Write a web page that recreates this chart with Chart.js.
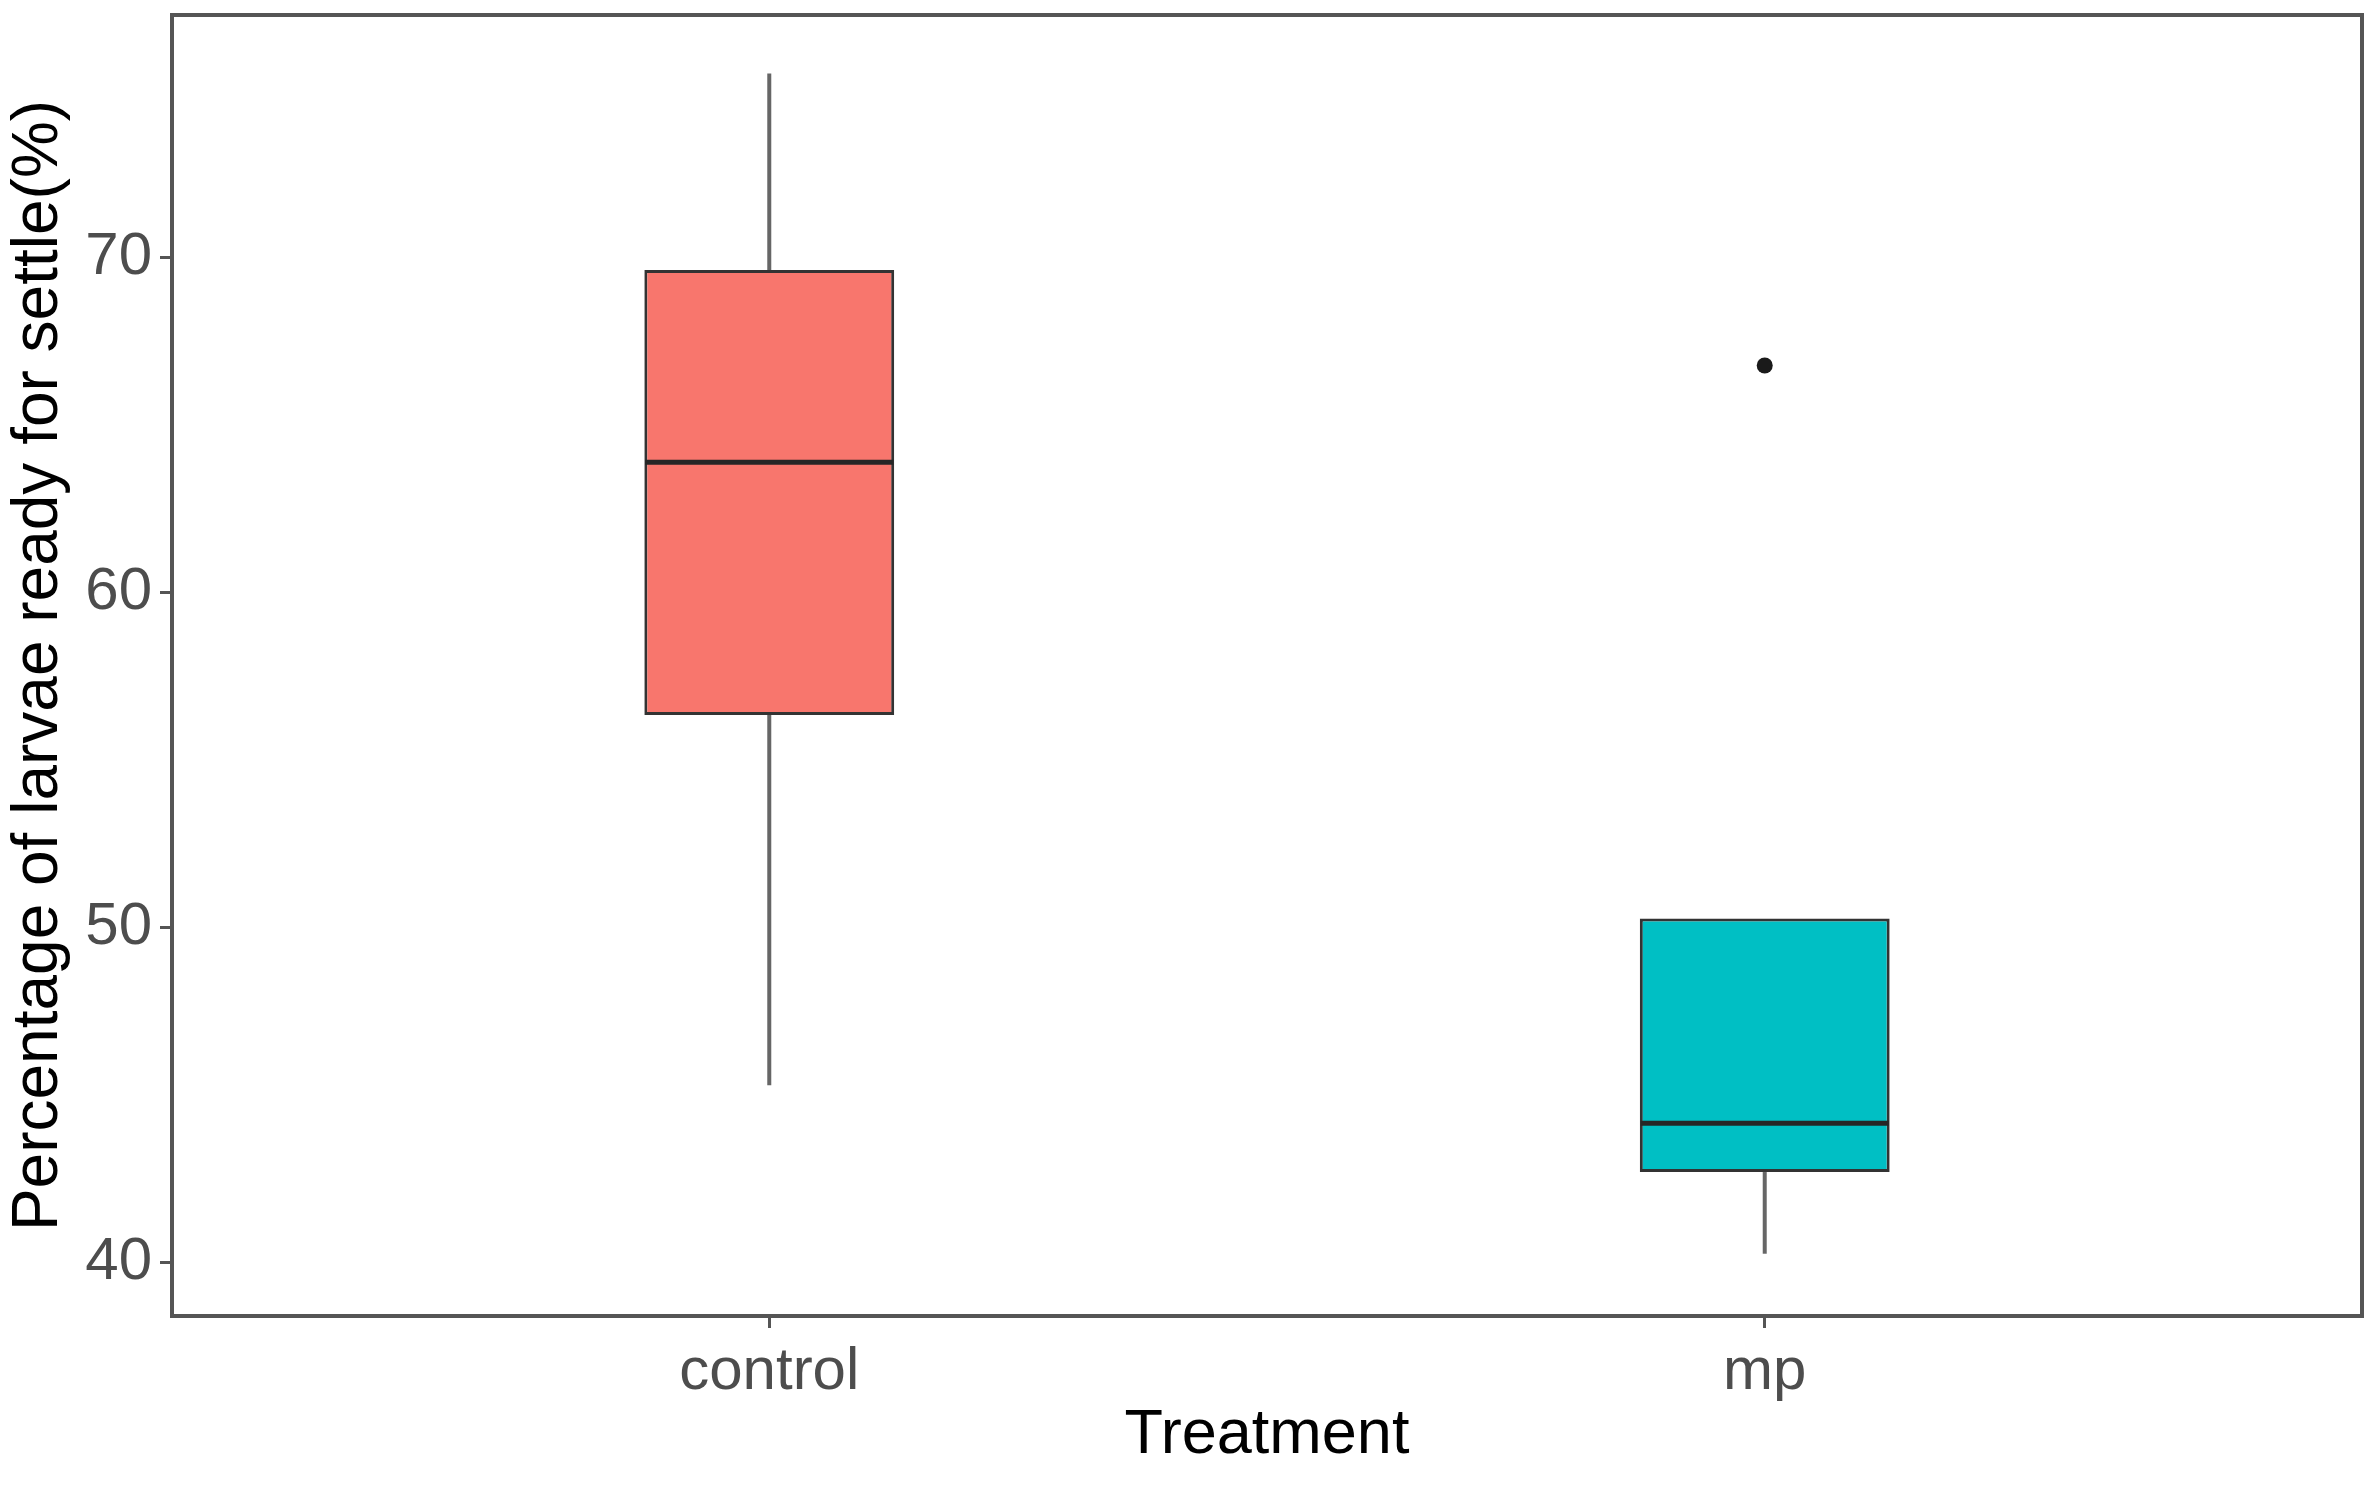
<!DOCTYPE html>
<html>
<head>
<meta charset="utf-8">
<script src="https://cdn.jsdelivr.net/npm/chart.js@4/dist/chart.umd.min.js"></script>
<style>
  html, body { margin: 0; padding: 0; background: #fff; }
  #wrap { width: 2375px; height: 1493px; }
</style>
</head>
<body>
<div id="wrap"><canvas id="boxChart" width="2375" height="1493"></canvas></div>
<script>
// values
const treatments = ['control', 'mp'];
const positions = [1, 2];
const lowWhisker = [45.28, 40.25];
const q1 = [56.34, 42.69];
const medians = [63.89, 44.15];
const q3 = [69.63, 50.26];
const highWhisker = [75.50, 50.26];
const outliers = [{ x: 2, y: 66.78 }];
const yTicks = [40, 50, 60, 70];
const boxColors = ['#F8766D', '#00BFC4'];

const FONT = "'Liberation Sans', Arial, sans-serif";

// frame around the panel
const panelBorder = {
  id: 'panelBorder',
  afterDatasetsDraw(chart) {
    const { ctx, chartArea } = chart;
    ctx.save();
    ctx.strokeStyle = '#555555';
    ctx.lineWidth = 4;
    ctx.strokeRect(chartArea.left, chartArea.top, chartArea.right - chartArea.left, chartArea.bottom - chartArea.top);
    ctx.restore();
  }
};

const ctx = document.getElementById('boxChart').getContext('2d');

new Chart(ctx, {
  type: 'bar',
  data: {
    datasets: [
      {
        type: 'scatter',
        label: 'median',
        data: positions.map((x, i) => ({ x: x, y: medians[i] })),
        pointStyle: 'line',
        pointRadius: 124,
        pointHoverRadius: 124,
        borderColor: '#262626',
        borderWidth: 5,
        order: 0
      },
      {
        type: 'scatter',
        label: 'outliers',
        data: outliers,
        pointRadius: 8,
        backgroundColor: '#1a1a1a',
        borderColor: '#1a1a1a',
        borderWidth: 0,
        order: 0
      },
      {
        label: 'box',
        data: positions.map((x, i) => ({ x: x, y: [q1[i], q3[i]] })),
        backgroundColor: boxColors,
        borderColor: '#333333',
        borderWidth: 3,
        borderSkipped: false,
        grouped: false,
        categoryPercentage: 1,
        barPercentage: 0.251,
        order: 1
      },
      {
        label: 'lower whisker',
        data: positions.map((x, i) => ({ x: x, y: [lowWhisker[i], q1[i]] })),
        backgroundColor: '#666666',
        borderWidth: 0,
        grouped: false,
        maxBarThickness: 4,
        order: 2
      },
      {
        label: 'upper whisker',
        data: positions.map((x, i) => ({ x: x, y: [q3[i], highWhisker[i]] })),
        backgroundColor: '#666666',
        borderWidth: 0,
        grouped: false,
        maxBarThickness: 4,
        order: 2
      }
    ]
  },
  options: {
    responsive: false,
    animation: false,
    devicePixelRatio: 1,
    layout: { autoPadding: false, padding: { top: 15, right: 13, left: 0, bottom: 0 } },
    plugins: {
      legend: { display: false },
      tooltip: { enabled: false }
    },
    scales: {
      x: {
        type: 'linear',
        min: 0.4,
        max: 2.6,
        offset: false,
        afterBuildTicks: (scale) => { scale.ticks = positions.map(v => ({ value: v })); },
        afterFit: (scale) => {
          scale.height = 177;
          scale.paddingLeft = 0;
          scale.paddingRight = 0;
        },
        ticks: {
          callback: (value) => treatments[positions.indexOf(value)],
          color: '#4d4d4d',
          font: { family: FONT, size: 60 },
          padding: 8,
          maxRotation: 0
        },
        grid: {
          offset: false,
          drawOnChartArea: false,
          drawTicks: true,
          tickLength: 12,
          tickWidth: 3,
          tickColor: '#555555'
        },
        border: { display: false },
        title: {
          display: true,
          text: 'Treatment',
          color: '#000000',
          font: { family: FONT, size: 63 },
          padding: { top: 0, bottom: 20 }
        }
      },
      y: {
        type: 'linear',
        min: 38.39,
        max: 77.25,
        beginAtZero: false,
        afterBuildTicks: (scale) => { scale.ticks = yTicks.map(v => ({ value: v })); },
        afterFit: (scale) => {
          scale.width = 172;
          scale.paddingTop = 0;
          scale.paddingBottom = 0;
        },
        ticks: {
          color: '#4d4d4d',
          font: { family: FONT, size: 60 },
          padding: 8
        },
        grid: {
          drawOnChartArea: false,
          drawTicks: true,
          tickLength: 12,
          tickWidth: 3,
          tickColor: '#555555'
        },
        border: { display: false },
        title: {
          display: true,
          text: 'Percentage of larvae ready for settle(%)',
          color: '#000000',
          font: { family: FONT, size: 64 },
          padding: { top: 1, bottom: 0 }
        }
      }
    }
  },
  plugins: [panelBorder]
});
</script>
</body>
</html>
